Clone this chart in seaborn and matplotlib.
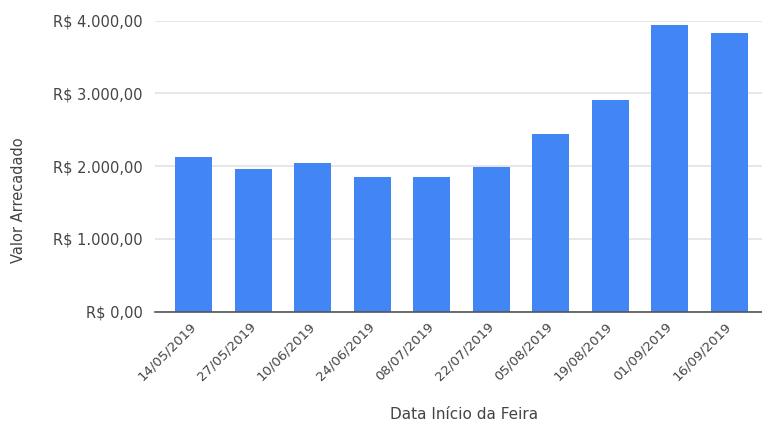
import matplotlib
matplotlib.use("Agg")
import matplotlib.pyplot as plt
import seaborn as sns
import pandas as pd
from matplotlib.ticker import FuncFormatter, FixedLocator

# Fair start dates and amount raised at each one (R$)
datas = ["14/05/2019", "27/05/2019", "10/06/2019", "24/06/2019", "08/07/2019",
         "22/07/2019", "05/08/2019", "19/08/2019", "01/09/2019", "16/09/2019"]
valores = [2120, 1960, 2045, 1850, 1845, 1985, 2445, 2910, 3935, 3835]
y_ticks = [0, 1000, 2000, 3000, 4000]

sns.set_theme(style="white")
plt.rcParams["font.family"] = ["DejaVu Sans"]

TEXT = "#444444"

fig = plt.figure(figsize=(7.62, 4.26), dpi=100)
ax = fig.add_axes([155 / 762, 1 - 311.7 / 426, (762 - 155) / 762, (311.7 - 20.7) / 426])

df = pd.DataFrame({"data": datas, "valor": valores})
sns.barplot(data=df, x="data", y="valor", color="#4285F4", saturation=1,
            width=0.62, linewidth=0, ax=ax)

ax.set_xlim(-0.65, 9.55)
ax.set_ylim(0, 4000)
ax.yaxis.set_major_locator(FixedLocator(y_ticks))


def brl(v, pos):
    s = f"{v:,.2f}".replace(",", "X").replace(".", ",").replace("X", ".")
    return f"R$ {s}"


ax.yaxis.set_major_formatter(FuncFormatter(brl))
ax.grid(axis="y", color="#e3e3e3", linewidth=1.2)
ax.set_axisbelow(True)
for side in ["top", "right", "left"]:
    ax.spines[side].set_visible(False)
ax.spines["bottom"].set_color("#555555")
ax.spines["bottom"].set_linewidth(1.2)

ax.tick_params(axis="both", length=0, colors=TEXT)
ax.tick_params(axis="y", pad=9, labelsize=10.5)
ax.tick_params(axis="x", pad=9, labelsize=9.5)
plt.setp(ax.get_xticklabels(), rotation=45, ha="right", va="center",
         rotation_mode="anchor")

ax.set_xlabel("Data Início da Feira", fontsize=11, color=TEXT)
ax.xaxis.set_label_coords(0.509, -0.328)
ax.set_ylabel("Valor Arrecadado", fontsize=10.5, color=TEXT)
ax.yaxis.set_label_coords(-0.213, 0.384)

fig.savefig("out.png", dpi=100, facecolor="white")
